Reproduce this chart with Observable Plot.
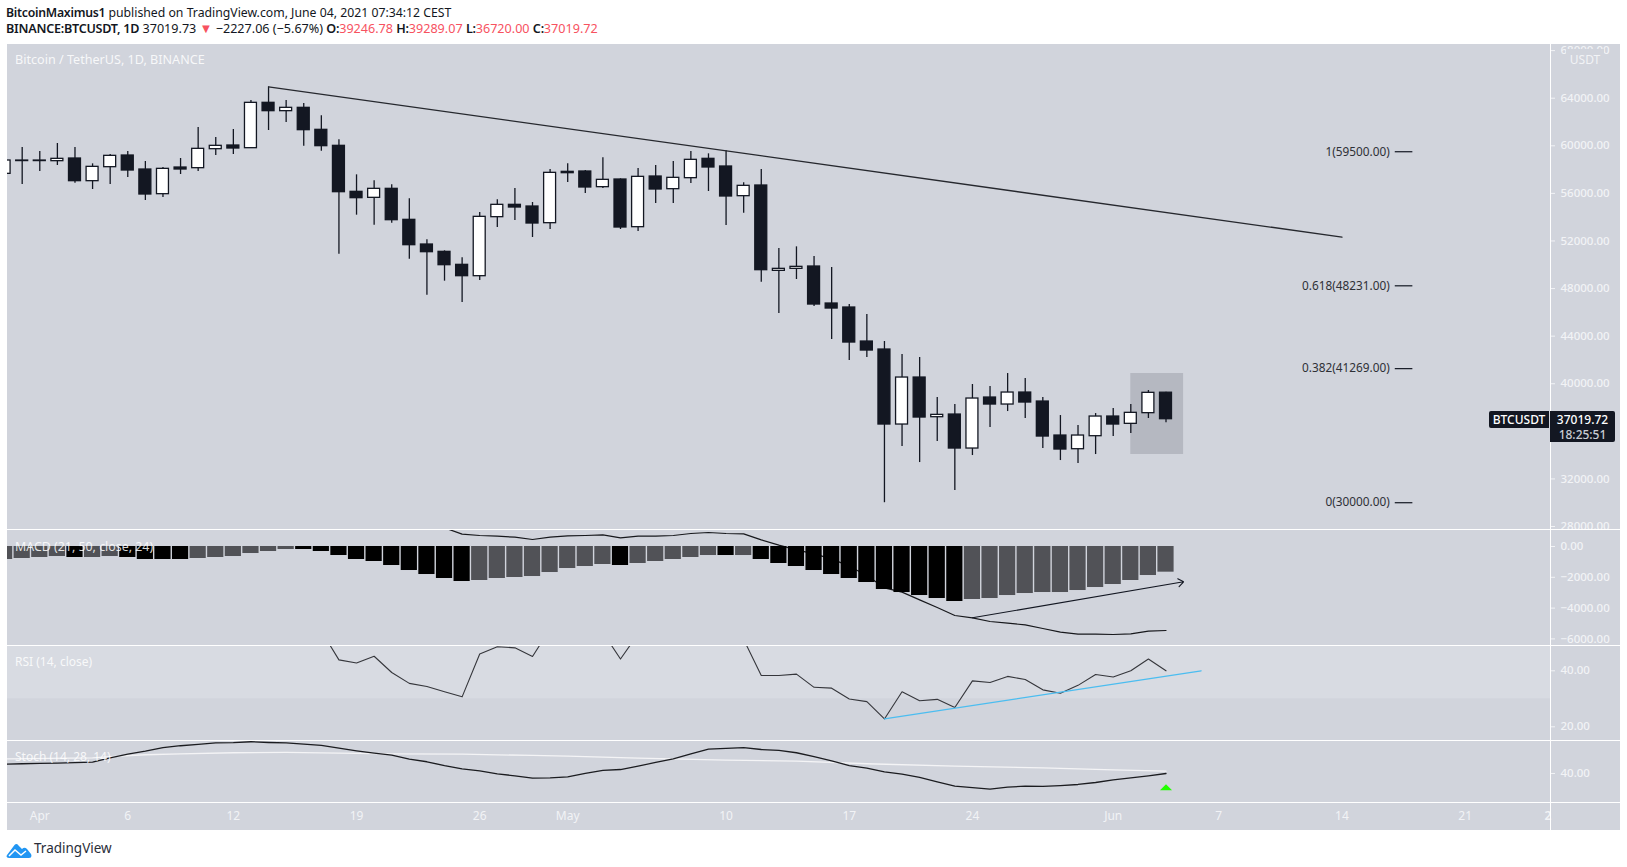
<!DOCTYPE html>
<html>
<head>
<meta charset="utf-8">
<script src="https://cdn.jsdelivr.net/npm/d3@7"></script>
<script src="https://cdn.jsdelivr.net/npm/@observablehq/plot@0.6"></script>
<style>
html,body{margin:0;padding:0;background:#fff;overflow:hidden}
#page{position:relative;width:1627px;height:867px;font-family:"Noto Sans",sans-serif;color:#131722}
#page>*{position:absolute}
.hl{left:7px;width:1613px;height:1px;background:#fff}
.head{left:6px;font-size:12.25px;white-space:nowrap;line-height:16px}
.head b{font-weight:600;letter-spacing:-.25px}
.red{color:#f7525f}
.tri{font-size:13px;line-height:10px}
.leg{left:15px;color:rgba(255,255,255,.85);font-size:12px;line-height:16px;white-space:nowrap}
</style>
</head>
<body>
<div id="page"></div>
<script>
// ---------- data ----------
const candleStart = "2021-03-30", candleEnd = "2021-06-05";
const opens  = [57642,58760,58760,58707,58931,57026,58202,59183,58006,55933,58174,58118,59715,60024,59799,63611,62910,63190,61341,59996,56129,55625,56382,53775,51702,51086,49993,49040,54000,55037,54896,53495,57810,57839,56522,57166,53159,57418,56353,57278,58903,58259,55765,56662,49489,49657,49853,46743,46407,43548,42876,36572,40522,37188,37412,34554,38841,38253,39261,38505,35647,34498,35591,37244,36630,37527,39246.78];
const highs  = [59368,59855,59519,60192,59855,58483,59267,59519,58679,58174,58931,61537,60696,61369,63806,64950,63807,63555,62518,60500,57558,57054,56718,55541,52095,51170,50581,54392,55457,56409,55233,58007,58483,57923,58987,57222,58091,58343,58679,59520,59324,59576,56886,58007,51366,51506,50694,49769,46658,45818,43548,42456,42204,38841,38253,39934,39766,40858,40438,38841,37328,36487,37496,37916,38253,39432,39289.07];
const lows   = [57076,56745,57838,58343,56857,56325,56745,57334,55400,55653,57586,57838,59183,59267,59799,61285,61957,59968,59548,50889,54168,53327,53495,50469,47443,48620,46829,48676,53131,53720,52290,52963,56914,55989,56409,52963,52795,55149,55149,56830,56158,53299,54336,48536,45902,48760,46490,43717,41951,42204,30000,34723,33377,35143,31024,33966,36319,37664,37076,34554,33545,33293,34050,35563,35815,37078,36720];
const closes = [58763,58715,58715,58903,57026,58230,59155,57922,55905,58062,58006,59744,59996,59771,63610,62910,63190,61313,59968,56101,55597,56382,53747,51646,51058,49965,49040,54028,55037,54812,53467,57726,57698,56494,57138,53131,57390,56325,57306,58819,58175,55737,56634,49545,49657,49825,46658,46322,43464,42792,36572,40522,37160,37384,34554,38757,38253,39261,38421,35563,34470,35647,37244,36572,37555,39236,37019.72];

const trendDates = ["2021-04-14","2021-06-14"], trendValues = [64950,52326];
const fibRatios = ["1","0.618","0.382","0"], fibValues = [59500,48231,41269,30000];
const fibFrom = "2021-06-17", fibTo = "2021-06-18";
const boxDates = ["2021-06-02","2021-06-05"], boxValues = [34052,40861];
const priceTicks = [28000,32000,40000,44000,48000,52000,56000,60000,64000,68000];
const lastPrice = 37019.72;

const macdHist = [-844,-779,-714,-650,-714,-714,-650,-714,-844,-844,-844,-779,-714,-650,-455,-325,-195,-195,-325,-585,-844,-974,-1234,-1559,-1819,-2078,-2273,-2208,-2078,-2013,-1949,-1689,-1429,-1299,-1169,-1234,-1104,-974,-844,-714,-585,-585,-585,-844,-1104,-1299,-1559,-1819,-2078,-2338,-2793,-2988,-3183,-3377,-3572,-3442,-3377,-3183,-3053,-2988,-2988,-2858,-2663,-2468,-2208,-1884,-1667];
const macdShade = "ggggbggbbbbggggggbbbbbbbbbbggggggggbgggggbgbbbbbbbbbbbbgggggggggggg";
const macdLineStart = "2021-04-24";
const macdLine = [1212,801,714,671,606,455,606,693,714,758,563,671,671,714,844,909,844,823,433,87,-217,-476,-801,-1277,-1884,-2685,-2966,-3464,-3962,-4482,-4633,-4871,-4980,-5088,-5326,-5564,-5694,-5694,-5716,-5672,-5499,-5456];
const macdArrowDates = ["2021-05-24","2021-06-05"], macdArrowValues = [-4630,-2292];
const macdTicks = [0,-2000,-4000,-6000];

const rsiStart = "2021-04-17";
const rsiLine = [54.2,43.9,42.8,45.2,39.4,35.5,34.4,32.5,30.7,46.0,48.6,48.2,45.1,55.0,54,53,53.7,44.2,53.2,55,54,57,58,52,51.2,38.3,38.3,38.8,34.1,33.8,29.9,29.0,22.8,32.5,29.3,29.8,26.9,36.4,35.8,38.0,36.9,33.2,32.0,34.8,38.7,37.8,40.0,44.2,40.0];
const rsiTrendDates = ["2021-05-19","2021-06-06"], rsiTrendValues = [22.8,40];
const rsiBandLow = 30, rsiBandHigh = 70;
const rsiTicks = [20,40];

const stochK = [45.2,45.4,45.6,45.7,46.0,46.3,48.7,50.7,52.4,54.4,55.4,56.1,57.0,57.1,57.6,57.2,57.0,56.3,55.6,54.1,52.6,51.3,50.2,48.0,46.5,44.4,42.6,41.5,39.8,38.7,37.4,37.6,38.1,40.0,41.7,42.2,44.1,46.1,48.1,50.9,53.5,53.9,54.3,53.3,52.8,51.5,49.3,47.0,44.4,43.0,40.9,39.6,37.8,35.4,33.0,32.2,31.3,32.4,33.0,32.8,33.3,33.9,35.0,36.5,37.6,38.7,40.0];
const stochDDates = ["2021-03-30","2021-04-04","2021-04-05","2021-04-07","2021-04-09","2021-04-12","2021-04-15","2021-04-18","2021-04-21","2021-04-25","2021-04-29","2021-05-01","2021-05-05","2021-05-10","2021-05-14","2021-05-18","2021-05-23","2021-05-28","2021-06-01","2021-06-04"];
const stochD = [48.1,48.7,49.4,50.4,50.9,51.5,51.7,51.3,50.9,50.7,50,49.6,48.5,47.4,46.9,45.4,44.1,43.1,42.0,41.3];
const stochMarkDate = "2021-06-04", stochMarkValue = 32.4;
const stochTicks = [40];

const xTickDates = ["2021-04-01","2021-04-06","2021-04-12","2021-04-19","2021-04-26","2021-05-01","2021-05-10","2021-05-17","2021-05-24","2021-06-01","2021-06-07","2021-06-14","2021-06-21"];
const xTickLabels = ["Apr","6","12","19","26","May","10","17","24","Jun","7","14","21"];
const xClippedDate = "2021-06-25T17:00:00Z", xClippedLabel = "2";

// ---------- helpers ----------
const D = s => new Date(s.length > 10 ? s : s + "T00:00:00Z");
const dates = d3.utcDay.range(D(candleStart), D(candleEnd));
const idx = dates.map((_, i) => i);
const shift = (d, days) => new Date(+d + days * 864e5);
const xDomain = [D("2021-03-30T03:58:00Z"), D("2021-06-25T20:24:00Z")];
const INK = "#131722", FONT = '"Noto Sans",sans-serif';
const page = document.getElementById("page");

function pane(top, height, yDomain, ticks, marks){
  const svg = Plot.plot({
    width:1627, height, marginLeft:7, marginRight:77, marginTop:0, marginBottom:0,
    x:{type:"utc", domain:xDomain, axis:null},
    y:{domain:yDomain},
    style:{background:"transparent", fontFamily:FONT, fontSize:"11.5px"},
    marks:[...marks,
      Plot.axisY(ticks,{anchor:"right", tickSize:4, tickPadding:6, color:"#f2f3f6", fontWeight:500,
        tickFormat:d3.format(".2f"), label:null})]
  });
  svg.style.position="absolute"; svg.style.left="0"; svg.style.top=top+"px";
  page.appendChild(svg);
}
function div(cls, css, html){
  const e=document.createElement("div"); e.className=cls; e.style.cssText=css; e.innerHTML=html||""; page.appendChild(e); return e;
}

// background
div("", "left:7px;top:44px;width:1613px;height:786px;background:#d1d4dc");

// ---------- price pane ----------
const bodyHalf = 0.34;
pane(44, 485, [27749,68513], priceTicks, [
  Plot.rect([0],{x1:()=>D(boxDates[0]), x2:()=>D(boxDates[1]), y1:()=>boxValues[0], y2:()=>boxValues[1], fill:"#b5b8c1", clip:true}),
  Plot.ruleX(idx,{x:i=>dates[i], y1:i=>lows[i], y2:i=>highs[i], stroke:INK, strokeWidth:1.3, clip:true}),
  Plot.rect(idx,{x1:i=>shift(dates[i],-bodyHalf), x2:i=>shift(dates[i],bodyHalf), y1:i=>opens[i], y2:i=>closes[i],
    fill:i=>closes[i]>opens[i]?"#ffffff":INK, stroke:INK, strokeWidth:1.3, clip:true}),
  Plot.line([0,1],{x:i=>D(trendDates[i]), y:i=>trendValues[i], stroke:"#26282e", strokeWidth:1.3}),
  Plot.link(fibValues,{x1:()=>D(fibFrom), x2:()=>D(fibTo), y1:d=>d, y2:d=>d, stroke:"#131722", strokeWidth:1.2}),
  Plot.text(fibValues,{x:()=>D(fibFrom), y:d=>d, text:(d,i)=>`${fibRatios[i]}(${d.toFixed(2)})`, textAnchor:"end", dx:-5, fill:"#2e3036", fontSize:11.8}),
  Plot.link([lastPrice],{x1:()=>xDomain[1], x2:()=>shift(xDomain[1],0.23), y1:d=>d, y2:d=>d, stroke:"#f2f3f6", strokeWidth:1, clip:false})
]);

// ---------- MACD pane ----------
const macdDates = macdLine.map((_,i)=>d3.utcDay.offset(D(macdLineStart),i));
pane(529, 116, [-6429,1104], macdTicks, [
  Plot.line(macdLine,{x:(d,i)=>macdDates[i], y:d=>d, stroke:"#17181c", strokeWidth:1.2, clip:true}),
  Plot.rect(idx,{x1:i=>shift(dates[i],-0.46), x2:i=>shift(dates[i],0.46), y1:()=>0, y2:i=>macdHist[i],
    fill:i=>macdShade[i]==="b"?"#000000":"#515257", clip:true}),
  Plot.arrow([0],{x1:()=>D(macdArrowDates[0]), x2:()=>D(macdArrowDates[1]), y1:()=>macdArrowValues[0], y2:()=>macdArrowValues[1],
    stroke:"#131722", strokeWidth:1.1, bend:0, headLength:9, headAngle:75})
]);

// ---------- RSI pane ----------
const rsiDates = rsiLine.map((_,i)=>d3.utcDay.offset(D(rsiStart),i));
pane(645, 95, [15.1,49.04], rsiTicks, [
  Plot.rect([0],{x1:()=>xDomain[0], x2:()=>xDomain[1], y1:()=>rsiBandLow, y2:()=>rsiBandHigh, fill:"#d8dbe2", clip:true}),
  Plot.line(rsiLine,{x:(d,i)=>rsiDates[i], y:d=>d, stroke:"#35363b", strokeWidth:1.1, clip:true}),
  Plot.line([0,1],{x:i=>D(rsiTrendDates[i]), y:i=>rsiTrendValues[i], stroke:"#4bbdf0", strokeWidth:1.2})
]);

// ---------- Stochastic pane ----------
const flatTriangle = {draw(ctx){ctx.moveTo(0,-3);ctx.lineTo(6,3);ctx.lineTo(-6,3);ctx.closePath();}};
pane(740, 62, [23.9,58.3], stochTicks, [
  Plot.line(stochD,{x:(d,i)=>D(stochDDates[i]), y:d=>d, stroke:"#f4f4f6", strokeWidth:1.3, clip:true}),
  Plot.line(stochK,{x:(d,i)=>dates[i], y:d=>d, stroke:"#1b1c20", strokeWidth:1.3, clip:true}),
  Plot.dot([0],{x:()=>D(stochMarkDate), y:()=>stochMarkValue, symbol:flatTriangle, r:4, fill:"#22ff00", stroke:"none"})
]);

// ---------- time axis ----------
{
  const svg = Plot.plot({
    width:1627, height:28, marginLeft:7, marginRight:77, marginTop:0, marginBottom:0,
    x:{type:"utc", domain:xDomain, axis:null},
    style:{background:"transparent", fontFamily:FONT, fontSize:"12px"},
    marks:[
      Plot.axisX(xTickDates.map(D),{anchor:"top", tickSize:3, color:"#f2f3f6", tickFormat:()=>"", label:null}),
      Plot.text(xTickDates,{x:d=>D(d), text:(d,i)=>xTickLabels[i], frameAnchor:"top", dy:9, lineAnchor:"top",
        fill:"#f2f3f6", fontWeight:(d,i)=>/[A-Z]/.test(xTickLabels[i])?700:600}),
      Plot.text([xClippedDate],{x:d=>D(d), text:()=>xClippedLabel, frameAnchor:"top", dy:9, lineAnchor:"top", fill:"#f2f3f6", fontWeight:600})
    ]
  });
  svg.style.position="absolute"; svg.style.left="0"; svg.style.top="802px";
  page.appendChild(svg);
}

// ---------- frame, headings, legends ----------
[529,645,740,802].forEach(t=>div("hl",`top:${t}px`));
div("", "left:1550px;top:44px;width:1px;height:786px;background:#fff");
div("", "left:1566px;top:49px;width:38px;height:19px;background:#d1d4dc;color:#f2f3f6;font-size:12px;line-height:22px;text-align:center", "USDT");

div("head","top:5px","<b>BitcoinMaximus1</b> published on TradingView.com, June 04, 2021 07:34:12 CEST");
div("head","top:21px;font-size:12.6px",'<b>BINANCE:BTCUSDT, 1D</b> 37019.73 <span class="red tri">▼</span> −2227.06 (−5.67%) <b>O:</b><span class="red">39246.78</span> <b>H:</b><span class="red">39289.07</span> <b>L:</b><span class="red">36720.00</span> <b>C:</b><span class="red">37019.72</span>');

div("leg","top:52px;font-size:12.6px","Bitcoin / TetherUS, 1D, BINANCE");
div("leg","top:539px;font-size:12.4px","MACD (21, 50, close, 24)");
div("leg","top:654px","RSI (14, close)");
div("leg","top:749px","Stoch (14, 28, 14)");

div("", "left:1489px;top:411px;width:60px;height:17px;background:#131722;border-radius:2px 0 0 2px;color:#fff;font-size:12px;line-height:17px;text-align:center;font-weight:500","BTCUSDT");
div("", "left:1550px;top:411px;width:65px;height:31px;background:#131722;border-radius:0 2px 2px 0;color:#fff;font-size:12px;line-height:15px;text-align:center;font-weight:500",
  '<div style="margin-top:1px">37019.72</div><div style="color:#c9ccd4">18:25:51</div>');

div("", "left:6px;top:841px;width:26px;height:15px",
 '<svg width="26" height="15" viewBox="0 0 26 15"><path d="M1 12L8.5 2Q10.5 0 12.5 2.5L16 6Q18.5 3.5 21 6L25 11Q26.5 15 23 15L3 15Q-0.5 15 1 12Z" fill="#2196f3"/><polyline points="3,13 9,7 15,12 20,8" fill="none" stroke="#fff" stroke-width="1.5"/></svg>');
div("", "left:34px;top:839px;font-size:13.5px;line-height:18px;color:#2a2e39","TradingView");
</script>
</body>
</html>
